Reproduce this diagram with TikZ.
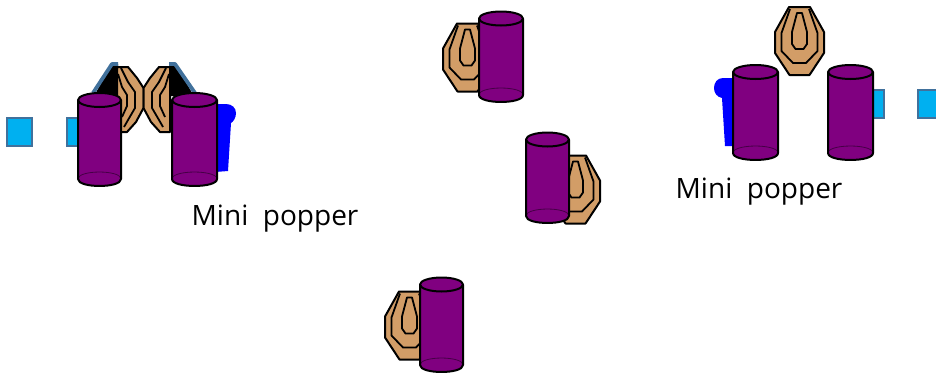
\documentclass[tikz,border=0pt]{standalone}
\usepackage{fontspec}
\setmainfont{Open Sans}
\definecolor{canpurple}{RGB}{128,0,128}
\definecolor{tan}{RGB}{210,157,103}
\definecolor{padcyan}{RGB}{0,176,240}
\definecolor{steel}{RGB}{65,113,156}
\definecolor{flapblue}{RGB}{0,0,255}
\tikzset{
  canfill/.style={fill=canpurple},
  canline/.style={draw=black,line width=2pt,line join=round},
  tgtouter/.style={fill=tan,draw=black,line width=2pt,line join=round},
  tgtinner/.style={draw=black,line width=1.8pt,line join=round},
  pad/.style={fill=padcyan,draw=steel,line width=1.3pt},
  label/.style={anchor=base west,inner sep=0pt,font=\fontsize{28}{32}\selectfont},
}
% cylinder: left x, right x, top-rim y, bottom-rim y
\newcommand\drawcan[4]{%
  \pgfmathsetmacro\canmid{(#1+#2)/2}%
  \pgfmathsetmacro\canrx{(#2-#1)/2}%
  \fill[canfill] (#1,#3) -- (#1,#4) .. controls (#1,#4+9.3) and (#2,#4+9.3) .. (#2,#4) -- (#2,#3) -- cycle;
  \draw[black,opacity=0.45,line width=0.8pt] (#1,#4) .. controls (#1,#4-9.3) and (#2,#4-9.3) .. (#2,#4);
  \draw[canline] (#1,#3) -- (#1,#4) .. controls (#1,#4+9.3) and (#2,#4+9.3) .. (#2,#4) -- (#2,#3);
  \filldraw[canfill,canline] (\canmid,#3) ellipse [x radius=\canrx, y radius=7];
}
% upright octagonal target centred at (x,y)
\newcommand\drawtarget[2]{%
  \begin{scope}[shift={(#1,#2)}]
    \draw[tgtouter] (-10.5,-34) -- (10.5,-34) -- (24.5,-9) -- (24.5,12) -- (10,34) -- (-10,34) -- (-24.5,12) -- (-24.5,-9) -- cycle;
    \draw[tgtinner] (-9.5,-32) -- (-18,-8) -- (-18,10) -- (-6.5,22) -- (6.5,22) -- (18,10) -- (18,-8) -- (9.5,-32);
    \draw[tgtinner] (-2.5,-28) -- (2.5,-28) -- (7.5,-9) -- (7.5,3) -- (4,8) -- (-4,8) -- (-7.5,3) -- (-7.5,-9) -- cycle;
  \end{scope}
}
\begin{document}
\begin{tikzpicture}[x=1pt,y=-1pt]
\useasboundingbox (0,0) rectangle (936,375);
\fill[white] (0,0) rectangle (936,375);
\begin{scope}
\clip (0,0) rectangle (936,375);

% ---- left mini popper ----
\draw[pad] (7,118) rectangle (32,146);
\draw[pad] (67,118) rectangle (92,146);
\fill[flapblue] (215,104) -- (226,104) .. controls (232,104) and (236,108) .. (236,113)
  .. controls (236,118) and (233,122) .. (231,123) -- (228,171) -- (215,172) -- cycle;
% dark backing plates with steel edges
\fill[black] (94,96) -- (112,64) -- (118,64) -- (118,96) -- cycle;
\draw[steel,line width=3.8pt,line join=round] (93,93) -- (112,64) -- (118,64);
\fill[black] (194,96) -- (175,64) -- (169,64) -- (169,96) -- cycle;
\draw[steel,line width=3.8pt,line join=round] (195,93) -- (175,64) -- (169,64);
% angled targets
\draw[tgtouter] (117,67) -- (128,67) -- (137,78) -- (143.5,88) -- (143.5,108) -- (136,122) -- (127,132) -- (117,132) -- cycle;
\draw[tgtinner] (121,68) -- (128,82) -- (135,92) -- (135,108) -- (128,120) -- (124,127);
\draw[tgtinner] (118,74) -- (122,87) -- (127,95) -- (127,106) -- (122,117);
\draw[tgtouter] (170,67) -- (159,67) -- (150,78) -- (143.5,88) -- (143.5,108) -- (151,122) -- (160,132) -- (170,132) -- cycle;
\draw[tgtinner] (166,68) -- (159,82) -- (152,92) -- (152,108) -- (159,120) -- (163,127);
\draw[tgtinner] (169,74) -- (165,87) -- (160,95) -- (160,106) -- (165,117);
\drawcan{78}{121}{100}{179}
\drawcan{172}{217}{100}{179}

% ---- free-standing targets ----
\drawtarget{467.5}{57.5}
\drawcan{479}{523}{18.5}{95}
\drawtarget{575.5}{189.5}
\drawcan{526}{569}{139.5}{216}
\drawtarget{409.5}{325.5}
\drawcan{420}{463}{284.5}{365}

% ---- right mini popper ----
\draw[pad] (859,90) rectangle (884,118);
\draw[pad] (918,90) rectangle (943,118);
\fill[flapblue] (735,78) -- (723,78) .. controls (717,78) and (714,83) .. (714,88)
  .. controls (714,93) and (717,97) .. (722,98) -- (725,146) -- (735,146) -- cycle;
\drawtarget{799.5}{41}
\drawcan{733}{778}{72}{153}
\drawcan{828}{873}{72}{153}
\end{scope}

\node[label] (lefttxt) at (191.5,225) {Mini~~popper};
\node[label] (righttxt) at (675.5,198) {Mini~~popper};
\end{tikzpicture}
\end{document}
